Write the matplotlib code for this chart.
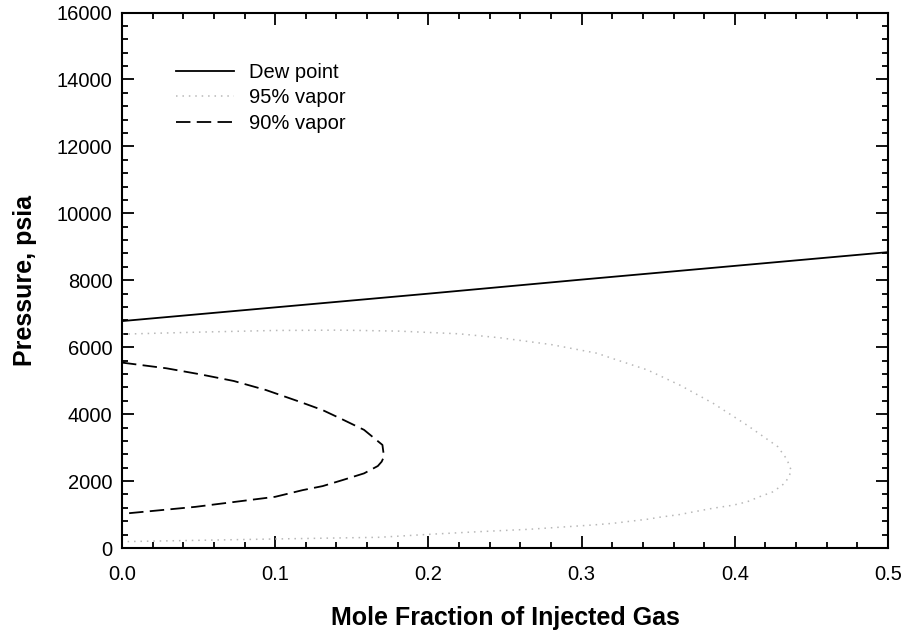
import matplotlib
matplotlib.use("Agg")
import matplotlib.pyplot as plt
from matplotlib.ticker import MultipleLocator

plt.rcParams['font.family'] = ['Liberation Sans', 'DejaVu Sans']

### Data
# Dew point line
dew_x = [0.0, 0.1, 0.2, 0.3, 0.4, 0.5]
dew_p = [6780, 7190, 7600, 8020, 8430, 8840]

# 95% vapor envelope (upper branch out to the tip, lower branch back)
v95_x = [0.0, 0.05, 0.1, 0.142, 0.181, 0.22, 0.247, 0.28, 0.31, 0.321, 0.343,
         0.364, 0.386, 0.408, 0.428, 0.434, 0.437,
         0.433, 0.425, 0.416, 0.408, 0.399, 0.386, 0.373, 0.364, 0.351, 0.343,
         0.330, 0.321, 0.308, 0.266, 0.234, 0.201, 0.168, 0.1, 0.0]
v95_p = [6390, 6450, 6500, 6510, 6480, 6400, 6280, 6080, 5820, 5650, 5320,
         4870, 4320, 3670, 3030, 2650, 2300,
         1950, 1680, 1530, 1380, 1280, 1190, 1080, 1000, 920, 860,
         790, 740, 690, 560, 490, 410, 320, 270, 190]

# 90% vapor envelope
v90_x = [0.0, 0.029, 0.051, 0.073, 0.094, 0.116, 0.131, 0.144, 0.158, 0.166, 0.170,
         0.171, 0.1695, 0.167, 0.158, 0.144, 0.131, 0.118, 0.1, 0.048, 0.0]
v90_p = [5540, 5370, 5190, 4990, 4720, 4370, 4120, 3840, 3530, 3230, 3080,
         2730, 2580, 2450, 2230, 2030, 1850, 1730, 1530, 1230, 1020]

### Plot
fig = plt.figure(figsize=(9.09, 6.39), dpi=100)
fig.subplots_adjust(left=0.1342, right=0.9769, bottom=0.1424, top=0.9804)
ax = fig.add_subplot(111)

ax.plot(dew_x, dew_p, color='black', lw=1.3, label='Dew point')
ax.plot(v95_x, v95_p, color='#b8b8b8', lw=1.1, linestyle=(0, (1, 3.2)), label='95% vapor')
ax.plot(v90_x, v90_p, color='black', lw=1.3, linestyle=(0, (8, 3.5)), label='90% vapor')

ax.set_xlim(0, 0.5)
ax.set_ylim(0, 16000)
ax.xaxis.set_major_locator(MultipleLocator(0.1))
ax.xaxis.set_minor_locator(MultipleLocator(0.02))
ax.yaxis.set_major_locator(MultipleLocator(2000))
ax.yaxis.set_minor_locator(MultipleLocator(400))
ax.xaxis.set_major_formatter(plt.FormatStrFormatter('%.1f'))

ax.tick_params(which='both', direction='in', top=True, right=True, width=1.3, labelsize=14.5)
ax.tick_params(which='major', length=8.5)
ax.tick_params(which='minor', length=4.3)
ax.tick_params(axis='x', pad=12)
ax.tick_params(axis='y', pad=7)
for s in ax.spines.values():
    s.set_linewidth(1.5)

ax.set_xlabel('Mole Fraction of Injected Gas', fontsize=18, fontweight='bold')
ax.set_ylabel('Pressure, psia', fontsize=18, fontweight='bold')
ax.xaxis.set_label_coords(0.5, -0.131)
ax.yaxis.set_label_coords(-0.127, 0.5)
ax.xaxis.label.set_va('center')
ax.yaxis.label.set_va('center')

ax.legend(loc='upper left', bbox_to_anchor=(0.070, 0.906), frameon=False, fontsize=14.5,
          handlelength=2.9, handletextpad=0.75, labelspacing=0.32,
          borderpad=0, borderaxespad=0)

fig.savefig('out.png', dpi=100)
